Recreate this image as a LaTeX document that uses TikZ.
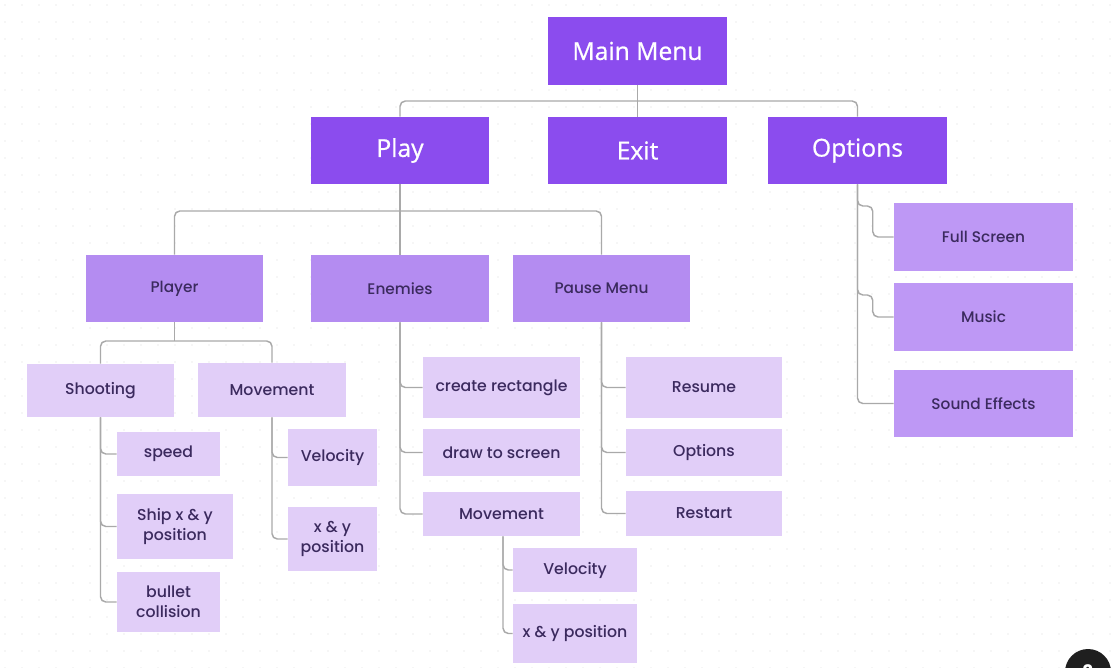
\documentclass[tikz,border=0pt]{standalone}
\usepackage{fontspec}
\setmainfont{Poppins}
\newfontfamily\medfont{Poppins Medium}
\newfontfamily\topfont{Open Sans}[UprightFeatures={FakeBold=0.8}]
\usetikzlibrary{calc}
\definecolor{topc}{HTML}{8B4CEE}
\definecolor{midc}{HTML}{B48CF1}
\definecolor{optc}{HTML}{BE98F5}
\definecolor{leafc}{HTML}{E1CEF8}
\definecolor{txtd}{HTML}{3B2A5E}
\definecolor{linec}{HTML}{A9A9A9}
\tikzset{
  sz/.style 2 args={minimum width=#1*0.75pt, minimum height=#2*0.75pt},
  topbox/.style={fill=topc, text=white, inner sep=0pt, font=\topfont\fontsize{18.5}{21}\selectfont},
  midbox/.style={fill=midc, text=txtd, inner sep=0pt, font=\medfont\fontsize{11.5}{14}\selectfont},
  optbox/.style={fill=optc, text=txtd, inner sep=0pt, font=\medfont\fontsize{11.5}{14}\selectfont},
  leafbox/.style={fill=leafc, text=txtd, inner sep=0pt, align=center, font=\medfont\fontsize{11.8}{15}\selectfont},
  conn/.style={draw=linec, line width=1.1pt, rounded corners=4pt},
}
\begin{document}
\begin{tikzpicture}[x=0.75pt, y=-0.75pt]
\useasboundingbox (0,0) rectangle (1119,667);
\fill[white] (0,0) rectangle (1119,667);
% faint dot grid
\foreach \i in {0,...,66} {
  \foreach \j in {0,...,39} {
    \fill[black!7] (5+\i*17, 5+\j*17) circle (0.6pt);
  }
}
% level 1
\node[topbox, sz={179}{68}] (main) at (637.5,51) {Main Menu};
\node[topbox, sz={178}{67}] (play) at (400,150.5) {Play};
\node[topbox, sz={179}{67}] (exit) at (637.5,150.5) {Exit};
\node[topbox, sz={179}{67}] (options) at (857.5,150.5) {Options};
% level 2
\node[midbox, sz={177}{67}] (player) at (174.5,288.5) {Player};
\node[midbox, sz={178}{67}] (enemies) at (400,288.5) {Enemies};
\node[midbox, sz={177}{67}] (pause) at (601.5,288.5) {Pause Menu};
% options children
\node[optbox, sz={179}{68}] (full) at (983.5,237) {Full Screen};
\node[optbox, sz={179}{68}] (music) at (983.5,317) {Music};
\node[optbox, sz={179}{67}] (sound) at (983.5,403.5) {Sound Effects};
% player children
\node[leafbox, sz={147}{53}] (shooting) at (100.5,390.5) {Shooting};
\node[leafbox, sz={148}{54}] (pmove) at (272,390) {Movement};
\node[leafbox, sz={103}{44}] (speed) at (168.5,454) {speed};
\node[leafbox, sz={116}{65}] (ship) at (175,526.5) {Ship x \& y\\position};
\node[leafbox, sz={103}{60}] (bullet) at (168.5,602) {bullet\\collision};
\node[leafbox, sz={89}{57}] (pvel) at (332.5,457.5) {Velocity};
\node[leafbox, sz={89}{64}] (pxy) at (332.5,539) {x \& y\\position};
% enemies children
\node[leafbox, sz={157}{61}] (create) at (501.5,387.5) {create rectangle};
\node[leafbox, sz={157}{47}] (drawsc) at (501.5,452.5) {draw to screen};
\node[leafbox, sz={157}{44}] (emove) at (501.5,514) {Movement};
\node[leafbox, sz={124}{44}] (evel) at (575,570) {Velocity};
\node[leafbox, sz={124}{59}] (exy) at (575,633.5) {x \& y position};
% pause children
\node[leafbox, sz={156}{61}] (resume) at (704,387.5) {Resume};
\node[leafbox, sz={156}{47}] (popt) at (704,452.5) {Options};
\node[leafbox, sz={156}{45}] (restart) at (704,513.5) {Restart};
% help button
\node[circle, fill=black!88, text=white, minimum size=46*0.75pt, inner sep=0pt, font=\bfseries\fontsize{14}{14}\selectfont] (help) at (1088,672) {?};
% connectors
\coordinate (b1) at (637.5,101);
\draw[conn] (main.south) -- (exit.north);
\draw[conn] (play.north) |- (b1) -| (options.north);
\coordinate (b2) at (400,211);
\draw[conn] (play.south) -- (enemies.north);
\draw[conn] (player.north) |- (b2) -| (pause.north);
\coordinate (b3) at (174.5,341);
\draw[conn] (player.south) -- (b3);
\draw[conn] (shooting.north) |- (b3) -| (pmove.north);
\draw[conn] (shooting.south) |- (speed.west);
\draw[conn] (shooting.south) |- (ship.west);
\draw[conn] (shooting.south) |- (bullet.west);
\draw[conn] (pmove.south) |- (pvel.west);
\draw[conn] (pmove.south) |- (pxy.west);
\draw[conn] (enemies.south) |- (create.west);
\draw[conn] (enemies.south) |- (drawsc.west);
\draw[conn] (enemies.south) |- (emove.west);
\draw[conn] ([xshift=1.5*0.75pt]emove.south) |- (evel.west);
\draw[conn] ([xshift=1.5*0.75pt]emove.south) |- (exy.west);
\draw[conn] (pause.south) |- (resume.west);
\draw[conn] (pause.south) |- (popt.west);
\draw[conn] (pause.south) |- (restart.west);
\draw[conn] (options.south) |- ($(full.west)+(-21,-31)$) |- (full.west);
\draw[conn] (options.south) |- ($(music.west)+(-21,-22)$) |- (music.west);
\draw[conn] (options.south) |- (sound.west);
\end{tikzpicture}
\end{document}
